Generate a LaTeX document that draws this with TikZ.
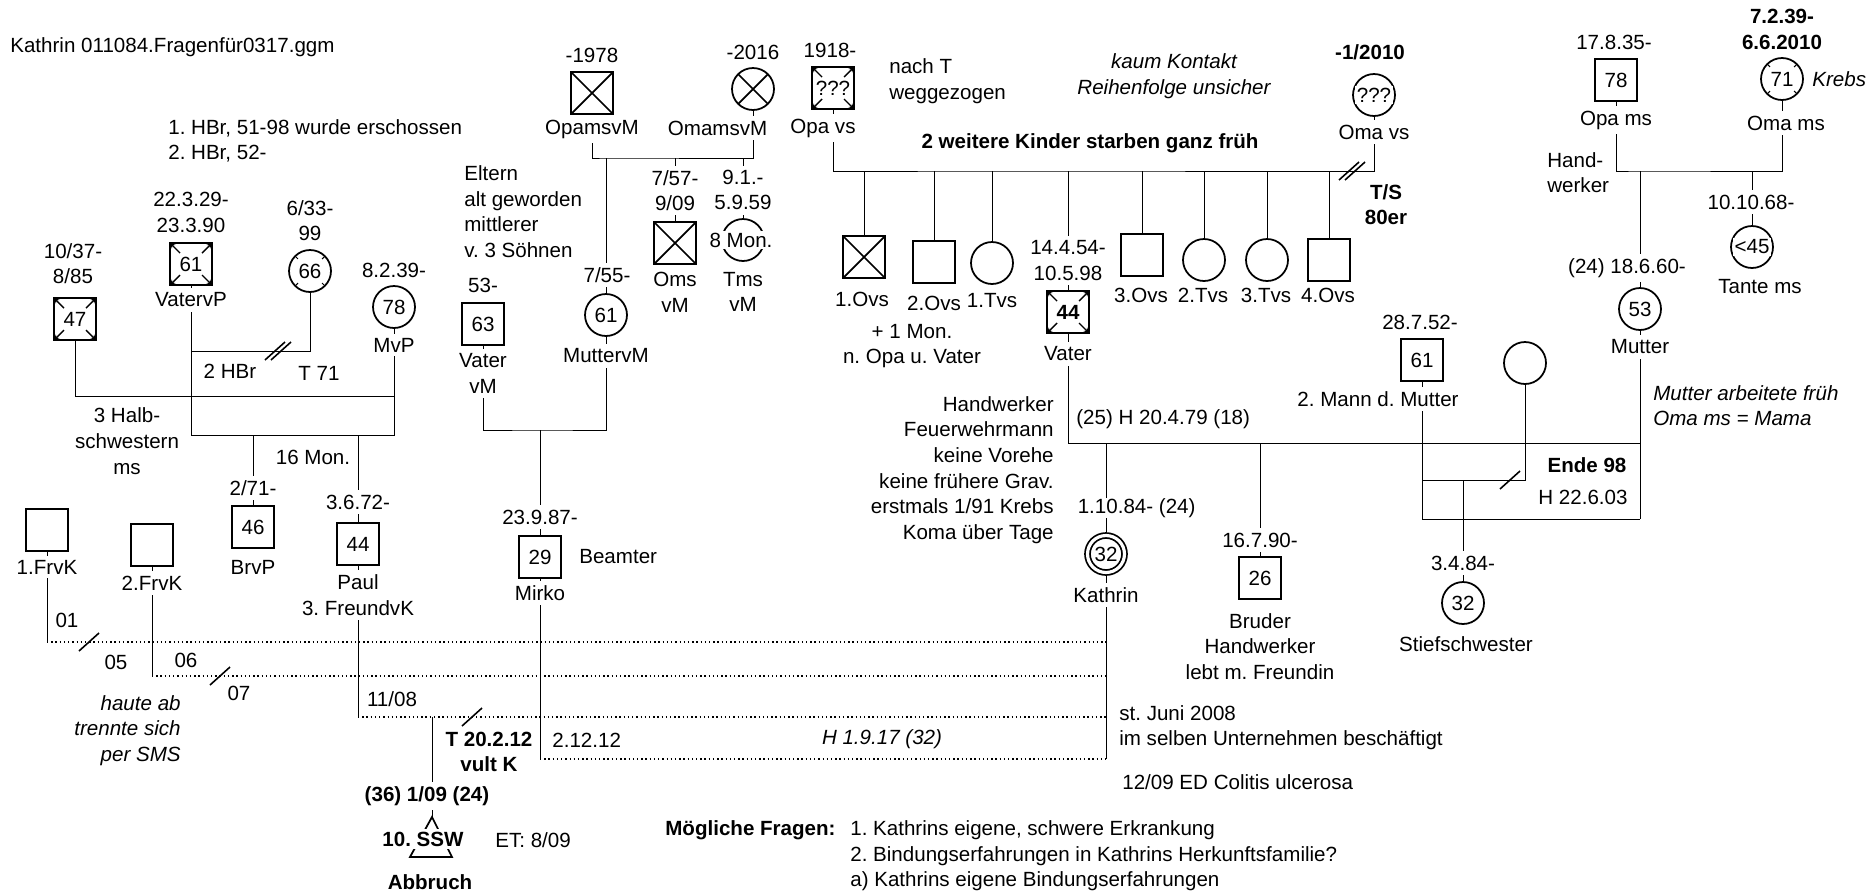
\documentclass[tikz,border=0pt]{standalone}
\usepackage{fontspec}
\setmainfont{Liberation Sans}
\usetikzlibrary{arrows.meta,backgrounds}
\newcommand{\gfont}{\fontsize{11.7}{14.6}\selectfont\frenchspacing}

\tikzset{
  sep/.pic={\draw[line width=0.9pt] (-10,9) -- (10,-9);},
  dsep/.pic={\draw[line width=0.9pt] (-13,9) -- (7,-9) (-7,9) -- (13,-9);}
}

\begin{document}
\begin{tikzpicture}[x=0.02cm, y=-0.02cm, font=\gfont,
  male/.style={draw, rectangle, minimum size=0.84cm, inner sep=0, line width=1pt, fill=white},
  female/.style={draw, circle, minimum size=0.84cm, inner sep=0, line width=1pt, fill=white},
  cross/.style={path picture={\draw[line width=1pt]
      (path picture bounding box.north west) -- (path picture bounding box.south east)
      (path picture bounding box.north east) -- (path picture bounding box.south west);}},
  corners/.style={path picture={
      \draw[line width=0.8pt, -{Stealth[length=3pt,width=3pt]}] ([shift={(0.2cm,-0.2cm)}]path picture bounding box.north west) -- (path picture bounding box.north west);
      \draw[line width=0.8pt, -{Stealth[length=3pt,width=3pt]}] ([shift={(-0.2cm,-0.2cm)}]path picture bounding box.north east) -- (path picture bounding box.north east);
      \draw[line width=0.8pt, -{Stealth[length=3pt,width=3pt]}] ([shift={(0.2cm,0.2cm)}]path picture bounding box.south west) -- (path picture bounding box.south west);
      \draw[line width=0.8pt, -{Stealth[length=3pt,width=3pt]}] ([shift={(-0.2cm,0.2cm)}]path picture bounding box.south east) -- (path picture bounding box.south east);}},
  ticks/.style={path picture={
      \foreach \a in {45,135,225,315}
        \draw[line width=0.6pt] ([shift={(\a:0.34cm)}]path picture bounding box.center) -- ([shift={(\a:0.42cm)}]path picture bounding box.center);}},
  lbl/.style={fill=white, inner sep=2.5pt, align=center},
  txt/.style={inner sep=0, align=center},
  rel/.style={line width=0.7pt, dash pattern=on 0.8pt off 1.6pt}
]
\useasboundingbox (0,0) rectangle (1873,893);

\node[txt, anchor=west] (title) at (10,47) {Kathrin 011084.Fragenfür0317.ggm};

% Paul's family
\node[txt, anchor=west, align=left] (hbrN) at (168,141) {1. HBr, 51-98 wurde erschossen\\2. HBr, 52-};
\node[male, corners] (hs) at (75,319) {47};
\node[lbl] (hsD) at (73,263.5) {10/37-\\8/85};
\node[male, corners] (gvp) at (191,264) {61};
\node[lbl] (gvpD) at (191,212.5) {22.3.29-\\23.3.90};
\node[lbl] (gvpL) at (191,300) {VatervP};
\node[female, ticks] (hw1) at (310,271) {66};
\node[lbl] (hw1D) at (310,220.5) {6/33-\\99};
\node[female] (gmp) at (394,307) {78};
\node[lbl] (gmpD) at (394,270) {8.2.39-};
\node[lbl] (gmpL) at (394,345) {MvP};
\node[txt] (hbr) at (230,371) {2 HBr};
\node[txt] (t71) at (319,373) {T 71};
\node[txt] (halb) at (127,441) {3 Halb-\\schwestern\\ms};
\node[txt] (mon16) at (313,457) {16 Mon.};
\node[male] (brvp) at (253,527) {46};
\node[lbl] (brvpD) at (253,488) {2/71-};
\node[lbl] (brvpL) at (253,567) {BrvP};
\node[male] (paul) at (358,544) {44};
\node[lbl] (paulD) at (358,502) {3.6.72-};
\node[lbl] (paulL) at (358,595) {Paul\\3. FreundvK};

% Kathrin's partners
\node[male] (frvk1) at (47,530) {};
\node[lbl] (frvk1L) at (47,567) {1.FrvK};
\node[male] (frvk2) at (152,545) {};
\node[lbl] (frvk2L) at (152,583) {2.FrvK};
\node[txt] (y01) at (67,620) {01};
\node[txt] (y05) at (116,662) {05};
\node[txt] (y06) at (186,660) {06};
\node[txt] (y07) at (239,693) {07};
\node[txt] (y1108) at (392,699) {11/08};
\node[txt, anchor=east, align=right, font=\gfont\itshape] (haute) at (181,730.5) {haute ab\\trennte sich\\per SMS};
\node[txt, font=\gfont\bfseries] (tvult) at (489,752) {T 20.2.12\\vult K};

% pregnancy
\draw[line width=1pt] (432,817) -- (410,857) -- (452,857) -- cycle;
\node[lbl, font=\gfont\bfseries] (prg) at (427,796) {(36) 1/09 (24)};
\node[lbl, inner sep=1.5pt, font=\gfont\bfseries] (ssw) at (423,839) {10. SSW};
\node[txt, anchor=west] (et) at (495,840) {ET: 8/09};
\node[txt, font=\gfont\bfseries] (abbr) at (430,882) {Abbruch};

% Mirko's family
\node[txt, anchor=west, align=left] (eltern) at (464,211.5) {Eltern\\alt geworden\\mittlerer\\v. 3 Söhnen};
\node[male, cross] (opam) at (592,93) {};
\node[lbl] (opamD) at (592,55) {-1978};
\node[lbl] (opamL) at (592,129) {OpamsvM};
\node[female, cross] (omam) at (753,89) {};
\node[lbl] (omamD) at (753,52) {-2016};
\node[lbl, anchor=east] (omamL) at (772,128) {OmamsvM};
\node[male, cross] (oms) at (675,243) {};
\node[lbl] (omsD) at (675,190.5) {7/57-\\9/09};
\node[lbl] (omsL) at (675,292) {Oms\\vM};
\node[female] (tms) at (743,240) {};
\node[lbl, inner sep=1pt] (tmsT) at (741,240) {8 Mon.};
\node[lbl] (tmsD) at (743,190) {9.1.-\\5.9.59};
\node[lbl] (tmsL) at (743,292) {Tms\\vM};
\node[male] (vvm) at (483,324) {63};
\node[lbl] (vvmD) at (483,285) {53-};
\node[lbl] (vvmL) at (483,373.5) {Vater\\vM};
\node[female] (mvm) at (606,315) {61};
\node[lbl] (mvmD) at (607,275) {7/55-};
\node[lbl] (mvmL) at (606,356) {MuttervM};
\node[male] (mirko) at (540,557) {29};
\node[lbl] (mirkoD) at (540,517) {23.9.87-};
\node[lbl] (mirkoL) at (540,593) {Mirko};
\node[txt, anchor=west] (beamter) at (579,557) {Beamter};
\node[txt, anchor=west] (d21212) at (552,740) {2.12.12};
\node[txt, font=\gfont\itshape] (hochz) at (882,739) {H 1.9.17 (32)};

% father's side
\node[male, corners] (opav) at (833,88) {???};
\node[lbl] (opavD) at (830,50) {1918-};
\node[lbl] (opavL) at (823,128) {Opa vs};
\node[txt, anchor=west, align=left] (nacht) at (889,81.5) {nach T\\weggezogen};
\node[txt, font=\gfont\itshape] (kaum) at (1174,76) {kaum Kontakt\\Reihenfolge unsicher};
\node[txt, font=\gfont\bfseries] (weitere) at (1090,143) {2 weitere Kinder starben ganz früh};
\node[female] (omav) at (1374,95) {};
\node[lbl, inner sep=1pt] (omavT) at (1374,95) {???};
\node[lbl, font=\gfont\bfseries] (omavD) at (1370,52) {-1/2010};
\node[lbl] (omavL) at (1374,132) {Oma vs};
\node[txt, font=\gfont\bfseries] (ts) at (1386,204.5) {T/S\\80er};
\node[male, cross] (ovs1) at (864,257) {};
\node[male] (ovs2) at (934,262) {};
\node[female] (tvs1) at (992,263) {};
\node[male, corners, font=\gfont\bfseries] (vater) at (1068,312) {44};
\node[male] (ovs3) at (1142,255) {};
\node[female] (tvs2) at (1204,260) {};
\node[female] (tvs3) at (1267,260) {};
\node[male] (ovs4) at (1329,260) {};
\node[txt] (ovs1L) at (862,299) {1.Ovs};
\node[txt] (ovs2L) at (934,303) {2.Ovs};
\node[txt] (tvs1L) at (992,301) {1.Tvs};
\node[txt] (ovs3L) at (1141,295) {3.Ovs};
\node[txt] (tvs2L) at (1203,295) {2.Tvs};
\node[txt] (tvs3L) at (1266,295) {3.Tvs};
\node[txt] (ovs4L) at (1328,295) {4.Ovs};
\node[txt] (plus1) at (912,346) {+ 1 Mon.\\n. Opa u. Vater};
\node[lbl] (vaterD) at (1068,260.5) {14.4.54-\\10.5.98};
\node[lbl] (vaterL) at (1068,354) {Vater};
\node[txt, anchor=east, align=right] (werk) at (1054,470) {Handwerker\\Feuerwehrmann\\keine Vorehe\\keine frühere Grav.\\erstmals 1/91 Krebs\\Koma über Tage};
\node[txt, anchor=west] (heirat) at (1076,419) {(25) H 20.4.79 (18)};

% Kathrin and siblings
\node[female, double, double distance=1.8pt, minimum size=0.74cm] (kathrin) at (1106,554) {32};
\node[lbl, anchor=west, inner sep=0pt] (kathD) at (1074,508) {\,1.10.84- (24)};
\node[lbl] (kathL) at (1106,595) {Kathrin};
\node[male] (bruder) at (1260,578) {26};
\node[lbl] (bruderD) at (1260,540) {16.7.90-};
\node[txt] (bruderL) at (1260,646.5) {Bruder\\Handwerker\\lebt m. Freundin};
\node[female] (stief) at (1463,603) {32};
\node[lbl] (stiefD) at (1463,563) {3.4.84-};
\node[txt] (stiefL) at (1466,644) {Stiefschwester};
\node[txt, anchor=west, align=left] (juni) at (1119,727.5) {st. Juni 2008\\im selben Unternehmen beschäftigt};
\node[txt, anchor=west] (colitis) at (1122,782) {12/09 ED Colitis ulcerosa};
\node[txt, anchor=west, font=\gfont\bfseries] (fragen) at (665,830) {Mögliche Fragen:};
\node[txt, anchor=west, align=left] (fragenL) at (850,856) {1. Kathrins eigene, schwere Erkrankung\\2. Bindungserfahrungen in Kathrins Herkunftsfamilie?\\a) Kathrins eigene Bindungserfahrungen};

% mother's side
\node[male] (mann2) at (1422,360) {61};
\node[lbl] (mann2D) at (1420,322) {28.7.52-};
\node[lbl] (mann2L) at (1378,399) {2. Mann d. Mutter};
\node[female] (fx) at (1525,363) {};
\node[txt, font=\gfont\bfseries] (ende) at (1587,465) {Ende 98};
\node[txt] (h2206) at (1583,497) {H 22.6.03};
\node[male] (opams) at (1616,80) {78};
\node[lbl] (opamsD) at (1614,42) {17.8.35-};
\node[lbl] (opamsL) at (1616,120) {Opa ms};
\node[female, ticks] (omams) at (1782,79) {71};
\node[lbl, font=\gfont\bfseries] (omamsD) at (1782,29.5) {7.2.39-\\6.6.2010};
\node[lbl] (omamsL) at (1786,123) {Oma ms};
\node[txt, anchor=west, font=\gfont\itshape] (krebs) at (1812,79) {Krebs};
\node[txt, anchor=west, align=left] (handw) at (1547,172.5) {Hand-\\werker};
\node[female] (mutter) at (1640,309) {53};
\node[lbl] (mutterD) at (1627,268) {(24) 18.6.60-};
\node[lbl] (mutterL) at (1640,347) {Mutter};
\node[txt, anchor=west, align=left, font=\gfont\itshape] (mnote) at (1653,405.5) {Mutter arbeitete früh\\Oma ms = Mama};
\node[female] (tante) at (1752,247) {};
\node[lbl, inner sep=1pt] (tanteT) at (1752,247) {<45};
\node[lbl] (tanteD) at (1751,202) {10.10.68-};
\node[lbl] (tanteL) at (1760,287) {Tante ms};

% junctions
\coordinate (j1) at (394,396);
\coordinate (j2) at (191,435);
\coordinate (j3) at (394,435);
\coordinate (j4) at (191,351);
\coordinate (k1) at (1106,642);
\coordinate (k2) at (1106,676);
\coordinate (k3) at (1106,717);
\coordinate (k4) at (1106,759);
\coordinate (pj) at (432,717);
\coordinate (pa) at (432,817);
\coordinate (m1) at (540,430);
\coordinate (m2) at (606,158);
\coordinate (m3) at (1000,171);
\coordinate (m4) at (1640,443);
\coordinate (m5) at (1640,171);
\coordinate (b2) at (1640,519);
\coordinate (s1) at (1463,480);

\begin{scope}[on background layer, line width=0.75pt]
  % Paul's parents
  \draw (hs) |- (j1);
  \draw (gvp) -- (j2) -- (j3) -- (gmp);
  \draw (j4) -| (hw1);
  \draw (brvp |- j2) -- (brvp);
  \draw (paul |- j2) -- (paul);
  % partners of Kathrin
  \draw (frvk1) -- (frvk1 |- k1);
  \draw[rel] (frvk1 |- k1) -- (k1);
  \draw (frvk2) -- (frvk2 |- k2);
  \draw[rel] (frvk2 |- k2) -- (k2);
  \draw (paul) -- (paul |- k3);
  \draw[rel] (paul |- k3) -- (k3);
  \draw (mirko) -- (mirko |- k4);
  \draw[rel] (mirko |- k4) -- (k4);
  \draw (kathrin) -- (k4);
  \draw (pj) -- (pa);
  % Mirko's family
  \draw (vvm) |- (m1) -| (mvm);
  \draw (m1) -- (mirko);
  \draw (opam) |- (m2) -| (omam);
  \draw (m2) -- (mvm);
  \draw (oms |- m2) -- (oms);
  \draw (tms |- m2) -- (tms);
  % father's family
  \draw (opav) |- (m3) -| (omav);
  \foreach \n in {ovs1,ovs2,tvs1,vater,ovs3,tvs2,tvs3,ovs4}
    \draw (\n |- m3) -- (\n);
  % parents of Kathrin
  \draw (vater) |- (m4);
  \draw (kathrin |- m4) -- (kathrin);
  \draw (bruder |- m4) -- (bruder);
  \draw (mutter) -- (b2);
  \draw (mann2) |- (b2);
  \draw (mann2 |- s1) -| (fx);
  \draw (s1) -- (stief);
  % mother's parents
  \draw (opams) |- (m5) -| (omams);
  \draw (m5) -- (mutter);
  \draw (tante |- m5) -- (tante);
\end{scope}

% separations
\pic at (278,351) {dsep};
\pic at (1352,171) {dsep};
\pic at (89,642) {sep};
\pic at (220,676) {sep};
\pic at (472,717) {sep};
\pic at (1510,480) {sep};
\end{tikzpicture}
\end{document}
